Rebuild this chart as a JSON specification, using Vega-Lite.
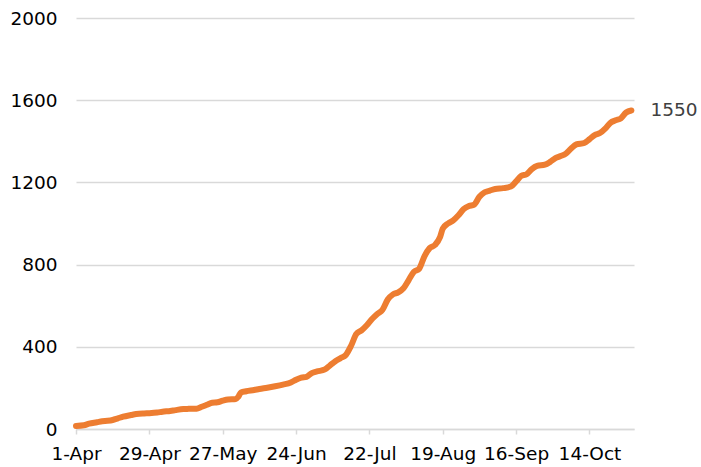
{
  "$schema": "https://vega.github.io/schema/vega-lite/v6.json",
  "autosize": {"type": "none"},
  "width": 558,
  "height": 411,
  "padding": {"left": 76, "top": 18, "right": 67, "bottom": 38},
  "background": "white",
  "config": {
    "view": {"stroke": null},
    "font": "DejaVu Sans"
  },
  "data": {
    "values": [
      {"date": "2020-04-01", "value": 15},
      {"date": "2020-04-04", "value": 18},
      {"date": "2020-04-06", "value": 26},
      {"date": "2020-04-09", "value": 33},
      {"date": "2020-04-11", "value": 38},
      {"date": "2020-04-13", "value": 40},
      {"date": "2020-04-15", "value": 44},
      {"date": "2020-04-17", "value": 52},
      {"date": "2020-04-19", "value": 60},
      {"date": "2020-04-22", "value": 68},
      {"date": "2020-04-24", "value": 73},
      {"date": "2020-04-27", "value": 76},
      {"date": "2020-04-29", "value": 77},
      {"date": "2020-05-02", "value": 80},
      {"date": "2020-05-04", "value": 84},
      {"date": "2020-05-07", "value": 88},
      {"date": "2020-05-09", "value": 92},
      {"date": "2020-05-12", "value": 97},
      {"date": "2020-05-14", "value": 98},
      {"date": "2020-05-17", "value": 99},
      {"date": "2020-05-19", "value": 108},
      {"date": "2020-05-21", "value": 118},
      {"date": "2020-05-23", "value": 128},
      {"date": "2020-05-25", "value": 130},
      {"date": "2020-05-27", "value": 138},
      {"date": "2020-05-29", "value": 144},
      {"date": "2020-06-01", "value": 146},
      {"date": "2020-06-02", "value": 158},
      {"date": "2020-06-03", "value": 178},
      {"date": "2020-06-05", "value": 184},
      {"date": "2020-06-08", "value": 190},
      {"date": "2020-06-10", "value": 195},
      {"date": "2020-06-13", "value": 201},
      {"date": "2020-06-16", "value": 208},
      {"date": "2020-06-19", "value": 216},
      {"date": "2020-06-22", "value": 226},
      {"date": "2020-06-24", "value": 240},
      {"date": "2020-06-26", "value": 250},
      {"date": "2020-06-28", "value": 254},
      {"date": "2020-06-30", "value": 272},
      {"date": "2020-07-02", "value": 280},
      {"date": "2020-07-05", "value": 290},
      {"date": "2020-07-07", "value": 310},
      {"date": "2020-07-09", "value": 330},
      {"date": "2020-07-11", "value": 345},
      {"date": "2020-07-13", "value": 360},
      {"date": "2020-07-15", "value": 405},
      {"date": "2020-07-17", "value": 462},
      {"date": "2020-07-19", "value": 480},
      {"date": "2020-07-21", "value": 505},
      {"date": "2020-07-23", "value": 535},
      {"date": "2020-07-25", "value": 560},
      {"date": "2020-07-27", "value": 580},
      {"date": "2020-07-29", "value": 630},
      {"date": "2020-07-31", "value": 655},
      {"date": "2020-08-02", "value": 665},
      {"date": "2020-08-04", "value": 685},
      {"date": "2020-08-06", "value": 725},
      {"date": "2020-08-08", "value": 765},
      {"date": "2020-08-10", "value": 780},
      {"date": "2020-08-12", "value": 840},
      {"date": "2020-08-14", "value": 880},
      {"date": "2020-08-16", "value": 895},
      {"date": "2020-08-18", "value": 935},
      {"date": "2020-08-19", "value": 975},
      {"date": "2020-08-21", "value": 1000},
      {"date": "2020-08-23", "value": 1015},
      {"date": "2020-08-25", "value": 1040},
      {"date": "2020-08-27", "value": 1070},
      {"date": "2020-08-29", "value": 1085},
      {"date": "2020-08-31", "value": 1092},
      {"date": "2020-09-02", "value": 1130},
      {"date": "2020-09-04", "value": 1152},
      {"date": "2020-09-06", "value": 1160},
      {"date": "2020-09-08", "value": 1168},
      {"date": "2020-09-11", "value": 1172},
      {"date": "2020-09-14", "value": 1180},
      {"date": "2020-09-16", "value": 1205},
      {"date": "2020-09-18", "value": 1232},
      {"date": "2020-09-20", "value": 1240},
      {"date": "2020-09-22", "value": 1265},
      {"date": "2020-09-24", "value": 1280},
      {"date": "2020-09-27", "value": 1286},
      {"date": "2020-09-29", "value": 1300},
      {"date": "2020-10-01", "value": 1318},
      {"date": "2020-10-03", "value": 1328},
      {"date": "2020-10-05", "value": 1340},
      {"date": "2020-10-07", "value": 1365},
      {"date": "2020-10-09", "value": 1385},
      {"date": "2020-10-12", "value": 1392},
      {"date": "2020-10-14", "value": 1410},
      {"date": "2020-10-16", "value": 1430},
      {"date": "2020-10-18", "value": 1440},
      {"date": "2020-10-20", "value": 1462},
      {"date": "2020-10-22", "value": 1490},
      {"date": "2020-10-24", "value": 1502},
      {"date": "2020-10-26", "value": 1512},
      {"date": "2020-10-28", "value": 1540},
      {"date": "2020-10-30", "value": 1550}
    ]
  },
  "encoding": {
    "x": {
      "field": "date",
      "type": "temporal",
      "scale": {
        "type": "utc",
        "domain": [
          {"year": 2020, "month": 4, "date": 1, "utc": true},
          {"year": 2020, "month": 10, "date": 31, "utc": true}
        ]
      },
      "axis": {
        "title": null,
        "labelExpr": "utcFormat(datum.value, '%-d-%b')",
        "values": [
          {"year": 2020, "month": 4, "date": 1, "utc": true},
          {"year": 2020, "month": 4, "date": 29, "utc": true},
          {"year": 2020, "month": 5, "date": 27, "utc": true},
          {"year": 2020, "month": 6, "date": 24, "utc": true},
          {"year": 2020, "month": 7, "date": 22, "utc": true},
          {"year": 2020, "month": 8, "date": 19, "utc": true},
          {"year": 2020, "month": 9, "date": 16, "utc": true},
          {"year": 2020, "month": 10, "date": 14, "utc": true}
        ],
        "grid": false,
        "domainColor": "#d9d9d9",
        "domainWidth": 1.5,
        "tickColor": "#d9d9d9",
        "tickWidth": 1.5,
        "tickSize": 5,
        "labelFontSize": 18.5,
        "labelColor": "#000000",
        "labelPadding": 10,
        "labelFlush": false,
        "labelOverlap": false
      }
    },
    "y": {
      "field": "value",
      "type": "quantitative",
      "scale": {"domain": [0, 2000], "nice": false},
      "axis": {
        "title": null,
        "values": [0, 400, 800, 1200, 1600, 2000],
        "domain": false,
        "ticks": false,
        "gridColor": "#d9d9d9",
        "gridWidth": 1.5,
        "labelFontSize": 18.5,
        "labelColor": "#000000",
        "labelPadding": 19,
        "format": "d"
      }
    }
  },
  "layer": [
    {
      "mark": {
        "type": "line",
        "color": "#ED7D31",
        "strokeWidth": 6,
        "strokeCap": "round",
        "strokeJoin": "round",
        "interpolate": "monotone"
      }
    },
    {
      "transform": [{"filter": "datum.value == 1550"}],
      "mark": {
        "type": "text",
        "align": "left",
        "baseline": "middle",
        "dx": 19,
        "fontSize": 18.5,
        "color": "#404040"
      },
      "encoding": {
        "text": {"field": "value", "type": "quantitative", "format": "d"}
      }
    }
  ]
}
